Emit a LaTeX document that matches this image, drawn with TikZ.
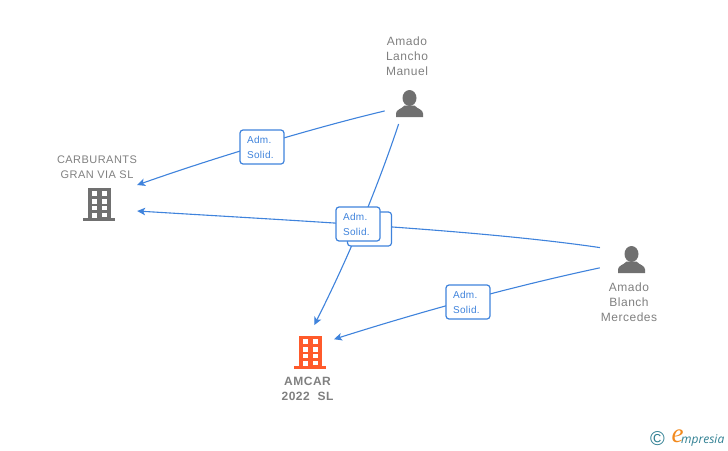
\documentclass[tikz,border=0pt]{standalone}
\usepackage{fontspec}
\setmainfont{Liberation Sans}
\newfontfamily\lblfont[LetterSpace=4.2]{Liberation Sans}
\newfontfamily\smallfont[LetterSpace=3.5]{Liberation Sans}
\newfontfamily\logofont{Open Sans}
\newfontfamily\logoefont{Liberation Serif}
\usetikzlibrary{arrows.meta}
\definecolor{linkblue}{HTML}{3F83DC}
\definecolor{txtgray}{HTML}{808080}
\definecolor{icongray}{HTML}{707070}
\definecolor{iconorange}{HTML}{FF5A2B}
\definecolor{logoteal}{HTML}{2F7F92}
\definecolor{logoorange}{HTML}{F28A1E}
\tikzset{
  anchorzone/.style={circle,inner sep=0pt,draw=none,fill=none},
  link/.style={draw=linkblue,line width=1.1pt,-{Stealth[length=8pt,width=7.5pt,inset=2pt]}},
  rolebox/.style={draw=linkblue,line width=1.2pt,rounded corners=3pt,fill=white,
    minimum width=44pt,minimum height=34pt,inner sep=0pt,text=linkblue,text width=30pt,align=left,
    font=\smallfont\fontsize{10}{15}\selectfont},
  personname/.style={text=txtgray,align=center,inner sep=0pt,font=\lblfont\fontsize{12}{15}\selectfont},
  companyname/.style={text=txtgray,align=center,inner sep=0pt,font=\lblfont\fontsize{11}{15}\selectfont},
  mainname/.style={text=txtgray,align=center,inner sep=0pt,font=\lblfont\bfseries\fontsize{12}{15}\selectfont},
  buildingicon/.pic={
    \fill[#1] (-11.5,-17) rectangle (11.5,13);
    \fill[#1] (-16,13) rectangle (16,16);
    \foreach \yy/\hh in {-14/5,-6/5,1/4}{
      \fill[white] (-7,\yy) rectangle (-2,\yy+\hh);
      \fill[white] (3,\yy) rectangle (8,\yy+\hh);
    }
    \fill[white] (-7,8) rectangle (-2,13);
    \fill[white] (3,8) rectangle (8,11.5);
  },
  personicon/.pic={
    \fill[icongray] (0,-5.5) ellipse [x radius=7,y radius=8];
    \fill[icongray] (-13.5,13.5) -- (-13.5,10) .. controls (-13.5,6) and (-8,5.5) .. (-5,2)
      -- (5,2) .. controls (8,5.5) and (13.5,6) .. (13.5,10) -- (13.5,13.5) -- cycle;
  }
}
\begin{document}
\begin{tikzpicture}[x=1pt,y=-1pt]
\useasboundingbox (0,0) rectangle (728,450);
% icons
\pic at (409.5,103.5) {personicon};
\pic at (631.5,259.5) {personicon};
\pic at (99,205) {buildingicon=icongray};
\pic at (310,353) {buildingicon=iconorange};
% invisible connection zones round the icons
\node[anchorzone,minimum size=48.6pt] (lancho) at (407,101) {};
\node[anchorzone,minimum size=67pt] (blanch) at (632,258) {};
\node[anchorzone,minimum size=69pt] (carb) at (105,198) {};
\node[anchorzone,minimum size=54pt] (amcar) at (310,352) {};
% names
\node[personname] (nlancho) at (407,56) {Amado\\Lancho\\Manuel};
\node[personname] (nblanch) at (629,302) {Amado\\Blanch\\Mercedes};
\node[companyname] (ncarb) at (97,167) {CARBURANTS\\GRAN VIA SL};
\node[mainname] (namcar) at (307.5,389) {AMCAR\\2022\ \ SL};
% connectors
\draw[link] (lancho.204.4) .. controls (325,125) and (225,154) .. (carb.22.1);
\draw[link] (lancho.250.8) .. controls (375.7,193) and (346.5,261) .. (amcar.81.3);
\draw[link] (blanch.162.6) .. controls (480,230) and (300,221) .. (carb.-22.1);
\draw[link] (blanch.197.4) .. controls (510,287) and (420,312) .. (amcar.28.4);
% role labels
\node[rolebox] (r1) at (262,147) {Adm.\\Solid.};
\node[rolebox] (r3) at (369.5,229) {};
\node[rolebox] (r2) at (358,224) {Adm.\\Solid.};
\node[rolebox] (r4) at (468,302) {Adm.\\Solid.};
% logo
\node[inner sep=0pt,text=logoteal,font=\fontsize{20}{20}\selectfont] (copy) at (657.5,439) {©};
\node[inner sep=0pt,text=logoorange,font=\logoefont\itshape\fontsize{27}{27}\selectfont] (loge) at (677.5,436) {e};
\node[inner sep=0pt,anchor=base west,text=logoteal,font=\logofont\itshape\fontsize{12}{14}\selectfont] (logt) at (681,443) {mpresia};
\end{tikzpicture}
\end{document}
